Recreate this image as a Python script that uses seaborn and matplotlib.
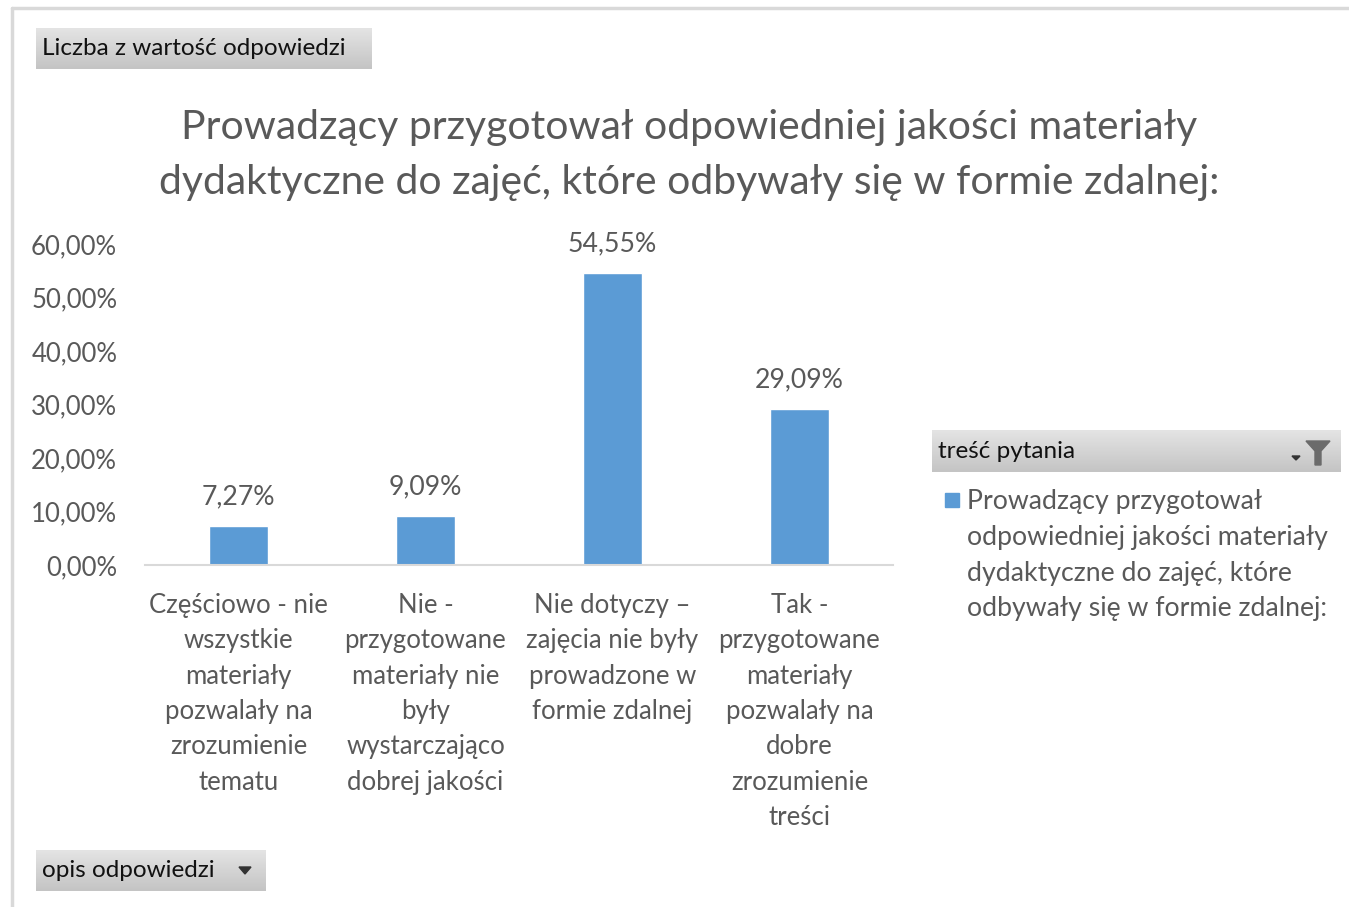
import numpy as np
import pandas as pd
import matplotlib
matplotlib.use("Agg")
import matplotlib.pyplot as plt
import seaborn as sns
from matplotlib.patches import Rectangle, Polygon
from matplotlib.lines import Line2D

# data
categories = [
    "Częściowo - nie\nwszystkie\nmateriały\npozwalały na\nzrozumienie\ntematu",
    "Nie -\nprzygotowane\nmateriały nie\nbyły\nwystarczająco\ndobrej jakości",
    "Nie dotyczy –\nzajęcia nie były\nprowadzone w\nformie zdalnej",
    "Tak -\nprzygotowane\nmateriały\npozwalały na\ndobre\nzrozumienie\ntreści",
]
values = [7.27, 9.09, 54.55, 29.09]
y_ticks = [0, 10, 20, 30, 40, 50, 60]

title = ("Prowadzący przygotował odpowiedniej jakości materiały\n"
         "dydaktyczne do zajęć, które odbywały się w formie zdalnej:")
legend_label = ("Prowadzący przygotował\nodpowiedniej jakości materiały\n"
                "dydaktyczne do zajęć, które\nodbywały się w formie zdalnej:")

bar_color = "#5B9BD5"
txt_gray = "#595959"

W, H = 1349, 907

sns.set_style("white")
plt.rcParams["font.family"] = ["Lato", "DejaVu Sans"]


def fx(px):
    return px / W


def fy(py):
    return 1 - py / H


def pct(v):
    return "{:.2f}%".format(v).replace(".", ",")


def add_button(fig, x0, y0, x1, y1):
    # gray gradient box like Excel pivot buttons
    bax = fig.add_axes([fx(x0), fy(y1), fx(x1 - x0), (y1 - y0) / H])
    grad = np.linspace(0, 1, 50).reshape(-1, 1)
    cmap = matplotlib.colors.LinearSegmentedColormap.from_list(
        "btn", ["#E4E4E4", "#C4C4C4"])
    bax.imshow(grad, aspect="auto", cmap=cmap, extent=[0, 1, 0, 1])
    bax.set_axis_off()
    return bax


def main():
    df = pd.DataFrame({"cat": categories, "val": values})

    fig = plt.figure(figsize=(W / 100, H / 100), dpi=100)

    # outer frame lines
    fig.add_artist(Line2D([fx(12), 1], [fy(8), fy(8)], color="#D9D9D9", lw=2.5))
    fig.add_artist(Line2D([fx(12), fx(12)], [fy(8), 0], color="#D9D9D9", lw=2.5))

    ax = fig.add_axes([fx(145), fy(565), fx(893 - 145), (565 - 244) / H])
    sns.barplot(data=df, x="cat", y="val", color=bar_color, width=0.32,
                saturation=1, ax=ax)
    ax.set_ylim(0, 60)
    ax.set_xlim(-0.5, len(categories) - 0.5)
    ax.set_yticks(y_ticks)
    ax.set_yticklabels([pct(t) for t in y_ticks])
    ax.set_xlabel("")
    ax.set_ylabel("")
    ax.tick_params(axis="y", length=0, pad=20, labelsize=18.5, labelcolor=txt_gray)
    ax.tick_params(axis="x", length=0, pad=20, labelsize=18.5, labelcolor=txt_gray)
    for lab in ax.get_xticklabels():
        lab.set_linespacing(1.52)
        lab.set_va("top")
    for s in ["top", "right", "left"]:
        ax.spines[s].set_visible(False)
    ax.spines["bottom"].set_color("#D9D9D9")
    ax.spines["bottom"].set_linewidth(1.5)

    for c in ax.containers:
        ax.bar_label(c, labels=[pct(v) for v in c.datavalues], padding=12,
                     fontsize=19.2, color=txt_gray)

    fig.text(fx(689), fy(155), title, ha="center", va="center",
             fontsize=29.4, color=txt_gray, linespacing=1.59)

    # top-left pivot button
    add_button(fig, 36, 28, 372, 69)
    fig.text(fx(42), fy(48.5), "Liczba z wartość odpowiedzi", ha="left",
             va="center", fontsize=17.5, color="#111111")

    # bottom pivot button with dropdown arrow
    add_button(fig, 36, 850, 266, 891)
    fig.text(fx(42), fy(870.5), "opis odpowiedzi", ha="left", va="center",
             fontsize=17.5, color="#111111")
    fig.add_artist(Polygon([[fx(239), fy(867)], [fx(251), fy(867)],
                            [fx(245), fy(874)]], closed=True,
                           color="#333333", transform=fig.transFigure))

    # legend header
    add_button(fig, 932, 430, 1341, 472)
    fig.text(fx(938), fy(451), "treść pytania", ha="left", va="center",
             fontsize=17.5, color="#111111")
    fig.add_artist(Polygon([[fx(1306), fy(441)], [fx(1330), fy(441)],
                            [fx(1321), fy(451)], [fx(1321), fy(465)],
                            [fx(1315), fy(465)], [fx(1315), fy(451)]],
                           closed=True, color="#6B6B6B",
                           transform=fig.transFigure))
    fig.add_artist(Polygon([[fx(1292), fy(456)], [fx(1300), fy(456)],
                            [fx(1296), fy(460)]], closed=True,
                           color="#333333", transform=fig.transFigure))

    # legend entry
    fig.add_artist(Rectangle((fx(945), fy(507)), fx(14), 14 / H,
                             color=bar_color, transform=fig.transFigure))
    fig.text(fx(967), fy(489), legend_label, ha="left", va="top",
             fontsize=19.2, color=txt_gray, linespacing=1.54)

    fig.savefig("out.png", dpi=100)


if __name__ == "__main__":
    main()
